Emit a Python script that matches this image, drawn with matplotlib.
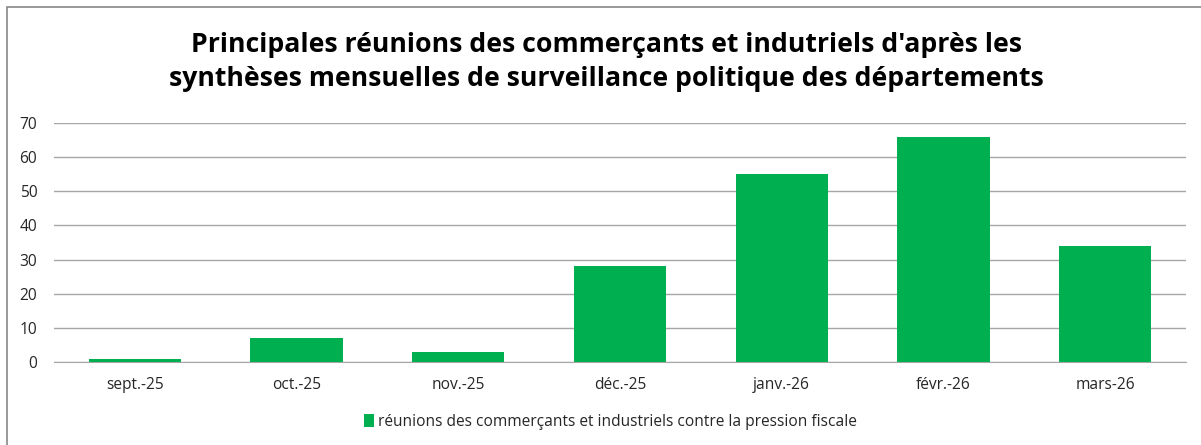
import matplotlib
matplotlib.use("Agg")
import matplotlib.pyplot as plt
from matplotlib.patches import Rectangle, Patch

months = ["sept.-25", "oct.-25", "nov.-25", "déc.-25", "janv.-26", "févr.-26", "mars-26"]
reunions = [1, 7, 3, 28, 55, 66, 34]
yticks = [0, 10, 20, 30, 40, 50, 60, 70]
title = ("Principales réunions des commerçants et indutriels d'après les\n"
         "synthèses mensuelles de surveillance politique des départements")
series_label = "réunions des commerçants et industriels contre la pression fiscale"

W, H = 1201, 445
GREEN = "#00B050"
plt.rcParams["font.family"] = ["Open Sans", "DejaVu Sans"]

fig = plt.figure(figsize=(W / 100, H / 100), dpi=100)

# outer chart frame (its right and bottom edges run off the canvas)
fig.patches.append(Rectangle((7 / W, -0.2), 1.2, 1.2 - 7 / H, transform=fig.transFigure,
                             fill=False, edgecolor="#888888", linewidth=1.2))

ax = fig.add_axes([54 / W, 1 - 362 / H, (1186 - 54) / W, (362 - 123) / H])
x = range(len(months))
ax.bar(x, reunions, width=0.57, color=GREEN, zorder=3)
ax.set_xlim(-0.5, len(months) - 0.5)
ax.set_ylim(0, 70)
ax.set_yticks(yticks)
ax.set_xticks(list(x))
ax.set_xticklabels(months)
ax.yaxis.grid(True, color="#A6A6A6", linewidth=1.0, zorder=0)
for s in ["top", "right", "left"]:
    ax.spines[s].set_visible(False)
ax.spines["bottom"].set_color("#A6A6A6")
ax.tick_params(axis="both", length=0, labelsize=11.2, colors="#262626")
ax.tick_params(axis="y", pad=12)
ax.tick_params(axis="x", pad=11)

fig.text(0.505, 1 - 62 / H, title, ha="center", va="center", fontsize=19.2,
         fontweight="bold", linespacing=1.4, color="#000000")

fig.legend(handles=[Patch(facecolor=GREEN, label=series_label)],
           loc="center", bbox_to_anchor=(610 / W, 1 - 422 / H), frameon=False,
           fontsize=11.2, handlelength=0.65, handleheight=0.85, handletextpad=0.25,
           labelcolor="#262626")

fig.savefig("out.png", dpi=100)
